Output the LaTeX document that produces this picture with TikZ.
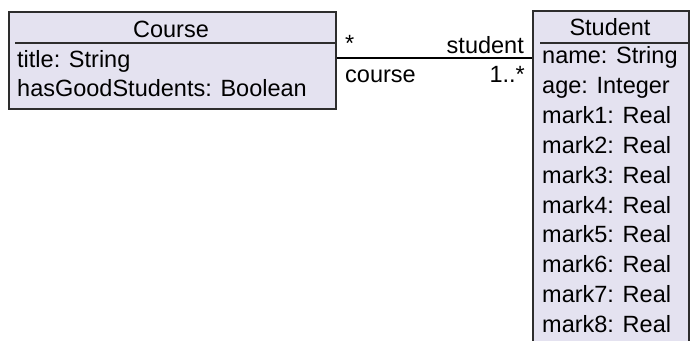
\documentclass[tikz,border=0pt]{standalone}
\usepackage{fontspec}
\setmainfont{Liberation Sans}
\usetikzlibrary{positioning}

\definecolor{classfill}{RGB}{228,226,240}
\definecolor{classline}{RGB}{45,45,45}

\tikzset{
    classbox/.style={draw=classline, fill=classfill, line width=1.6pt,
        inner sep=0pt, anchor=north west},
    member/.style={anchor=base west, inner sep=0pt, font=\fontsize{23.5}{30}\selectfont},
    classname/.style={anchor=base, inner sep=0pt, font=\fontsize{23.5}{30}\selectfont},
    rolelabel/.style={inner sep=0pt, font=\fontsize{23.5}{30}\selectfont},
    assoc/.style={draw=black, line width=1.6pt}
}

\begin{document}
\begin{tikzpicture}[x=1pt, y=-1pt]

% Page frame
\clip (0,0) rectangle (690,340);

% Line spacing of the members
\def\rowSkip{29.9}

% --- Course class ---
\node[classbox, minimum width=327pt, minimum height=97pt] (course) at (8,11) {};
\node[classname] (courseName) at (171,37) {Course};
\draw[classline, line width=1.6pt] (15,43) -- (335,43);
\node[member] (courseTitle) at (17,67) {title: String};
\node[member, below=\rowSkip pt of courseTitle.base west, anchor=base west] (courseGood)
    {hasGoodStudents: Boolean};

% --- Student class (runs off the bottom) ---
\node[classbox, minimum width=156pt, minimum height=345pt] (student) at (532,10) {};
\node[classname] (studentName) at (610,35) {Student};
\draw[classline, line width=1.6pt] (540,43) -- (688,43);
\node[member] (attr1) at (542,63.5) {name: String};
\node[member] (attr2) at (542,63.5+\rowSkip) {age: Integer};
\foreach \i in {1,...,8} {
    \node[member] (mark\i) at (542,63.5+\rowSkip*\i+\rowSkip) {mark\i: Real};
}

% --- Association between the two ---
\coordinate (assocStart) at ([yshift=-47pt]course.north east);
\coordinate (assocEnd) at (assocStart -| student.west);
\draw[assoc] (assocStart) -- (assocEnd);

% Role names and multiplicities
\node[rolelabel, anchor=base west] (courseMult) at (345,51) {*};
\node[rolelabel, anchor=base east] (studentRole) at (524,53) {student};
\node[rolelabel, anchor=base west] (courseRole) at (345,82) {course};
\node[rolelabel, anchor=base east] (studentMult) at (525,82) {1..*};

\end{tikzpicture}
\end{document}
